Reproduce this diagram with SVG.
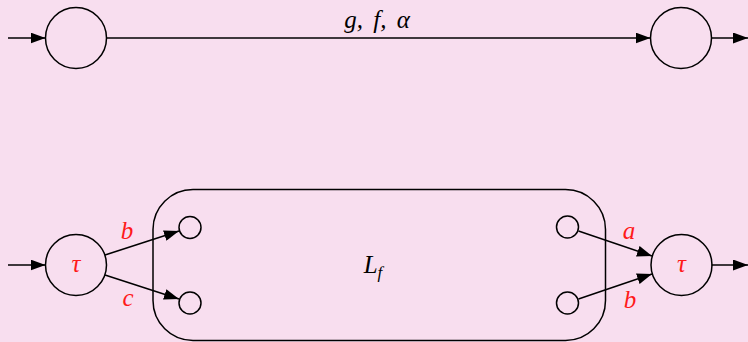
<svg xmlns="http://www.w3.org/2000/svg" width="748" height="342" viewBox="0 0 748 342">
<defs>
<marker id="ah" markerWidth="15" markerHeight="11" refX="15" refY="5.5" orient="auto" markerUnits="userSpaceOnUse">
<path d="M0,0 L15,5.5 L0,11 Z" fill="#000"/>
</marker>
<style>
.n{fill:none;stroke:#000;stroke-width:1.5}
.e{fill:none;stroke:#000;stroke-width:1.5;marker-end:url(#ah)}
.t{font-family:"Liberation Serif",serif;font-style:italic;font-size:25px;text-anchor:middle}
.r{fill:#ff1a1a}
</style>
</defs>
<rect width="748" height="342" fill="#f8deef"/>
<g id="connectors">
<line class="e" x1="8" y1="38" x2="45.5" y2="38"/>
<line class="e" x1="106.5" y1="38" x2="650.5" y2="38"/>
<line class="e" x1="711.5" y1="38" x2="748" y2="38"/>
<line class="e" x1="8" y1="265" x2="45.5" y2="265"/>
<line class="e" x1="105" y1="255" x2="179" y2="231"/>
<line class="e" x1="105" y1="275" x2="179" y2="299"/>
<line class="e" x1="578.5" y1="231" x2="652" y2="256"/>
<line class="e" x1="578.5" y1="299" x2="652" y2="274"/>
<line class="e" x1="711.5" y1="265" x2="748" y2="265"/>
<text class="t" x="377" y="28" word-spacing="4">g, f, α</text>
<text class="t r" x="127" y="239">b</text>
<text class="t r" x="128" y="306">c</text>
<text class="t r" x="629" y="239">a</text>
<text class="t r" x="630" y="308">b</text>
</g>
<g id="s1"><circle class="n" cx="76" cy="38" r="30.5"/></g>
<g id="s2"><circle class="n" cx="681" cy="38" r="30.5"/></g>
<g id="t1"><circle class="n" cx="76" cy="265" r="30.5"/><text class="t r" x="76" y="272">τ</text></g>
<g id="t2"><circle class="n" cx="681.5" cy="265" r="30.5"/><text class="t r" x="681.5" y="272">τ</text></g>
<g id="Lf"><rect class="n" x="153" y="189.5" width="452.5" height="151" rx="40" ry="40"/>
<text class="t" x="373" y="273">L<tspan font-size="17" dy="5">f</tspan></text></g>
<g id="p1"><circle class="n" cx="190" cy="227.5" r="11"/></g>
<g id="p2"><circle class="n" cx="190" cy="303" r="11"/></g>
<g id="p3"><circle class="n" cx="567.5" cy="227" r="11"/></g>
<g id="p4"><circle class="n" cx="567.5" cy="303" r="11"/></g>
</svg>
